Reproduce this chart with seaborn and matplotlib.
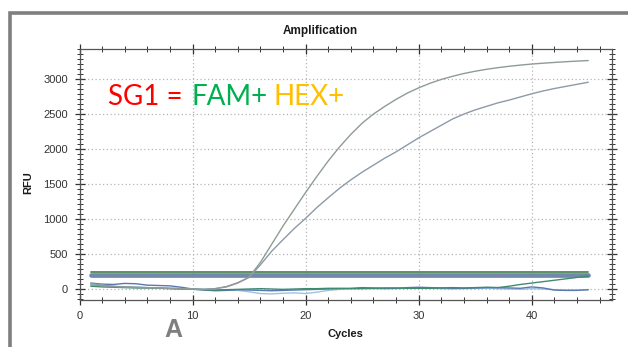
import numpy as np
import pandas as pd
import seaborn as sns
import matplotlib
matplotlib.use("Agg")
import matplotlib.pyplot as plt
from matplotlib.ticker import MultipleLocator, AutoMinorLocator
from matplotlib.patches import Rectangle

# ---------------- data ----------------
cycles = list(range(1, 46))

fam_curve = [60, 45, 35, 28, 22, 18, 12, 8, 5, 0, -5, 5, 30, 85, 170,
             380, 640, 900, 1140, 1380, 1610, 1830, 2030, 2210, 2370,
             2500, 2610, 2710, 2800, 2875, 2940, 2995, 3040, 3080, 3112,
             3140, 3163, 3183, 3200, 3215, 3227, 3238, 3248, 3257, 3265]

hex_curve = [80, 55, 40, 30, 25, 20, 15, 10, 5, 0, -5, 5, 35, 90, 165,
             345, 540, 705, 865, 1010, 1165, 1305, 1440, 1560, 1670,
             1770, 1870, 1960, 2060, 2160, 2250, 2340, 2430, 2500, 2560,
             2610, 2660, 2700, 2745, 2790, 2830, 2865, 2895, 2925, 2955]

ntc_blue = [85, 70, 65, 80, 75, 55, 50, 45, 25, 0, -15, -25, -20, -10, -15,
            -20, -25, -20, -15, -10, -5, 0, 5, 10, 20, 15, 10, 10, 20, 25,
            20, 15, 10, 10, 15, 20, 20, 15, 10, 30, 15, -15, -20, -20, -10]

ntc_light = [50, 40, 35, 30, 25, 20, 15, 10, 5, 0, -5, -10, -15, -20, -40,
             -65, -70, -60, -55, -65, -45, -20, -5, 5, 10, 5, 0, 5, 10, 15,
             10, 5, 0, 5, 10, 10, 5, 0, -5, 5, 0, -10, -15, -15, -10]

late_rise = [40, 30, 25, 20, 15, 15, 10, 5, 0, -5, -10, -15, -10, -5, 0,
             5, 0, -5, 0, 5, 5, 10, 10, 5, 5, 10, 15, 15, 10, 10,
             10, 15, 20, 15, 20, 25, 20, 40, 65, 85, 105, 125, 145, 165, 185]

threshold_blue = [205] * 45
threshold_green = [245] * 45

x_ticks = [0, 10, 20, 30, 40]
y_ticks = [0, 500, 1000, 1500, 2000, 2500, 3000]

title = "Amplification"
x_label = "Cycles"
y_label = "RFU"

# ---------------- figure ----------------
sns.set_style("ticks")
plt.rcParams['font.family'] = ['Liberation Sans', 'DejaVu Sans']

W, H = 628, 347
fig = plt.figure(figsize=(W / 100, H / 100), dpi=100)
fig.patch.set_facecolor("white")

ax_l, ax_r, ax_t, ax_b = 79.5, 612, 49, 299.5
ax = fig.add_axes([ax_l / W, 1 - ax_b / H, (ax_r - ax_l) / W, (ax_b - ax_t) / H])

# outer gray frame
fig.patches.append(Rectangle((9.5 / W, -0.1), 1.2, 1 - 13 / H + 0.1,
                             transform=fig.transFigure, fill=False,
                             edgecolor="#7f7f7f", linewidth=2.6, zorder=0))

def add(df_list, name, vals):
    df_list.append(pd.DataFrame({"Cycle": cycles, "RFU": vals, "trace": name}))

parts = []
add(parts, "ntc_light", ntc_light)
add(parts, "ntc_blue", ntc_blue)
add(parts, "late_rise", late_rise)
add(parts, "hex", hex_curve)
add(parts, "fam", fam_curve)
df = pd.concat(parts, ignore_index=True)

palette = {"ntc_light": "#9cc3e0", "ntc_blue": "#5a78b0",
           "late_rise": "#3f8a70", "hex": "#8d9aa8", "fam": "#8f9c96"}

sns.lineplot(x=cycles, y=threshold_blue, color="#7388ad", linewidth=3.4,
             ax=ax, legend=False, zorder=2)
sns.lineplot(x=cycles, y=threshold_green, color="#4e8a55", linewidth=1.3,
             ax=ax, legend=False, zorder=3)

sns.lineplot(data=df, x="Cycle", y="RFU", hue="trace", palette=palette,
             linewidth=1.0, ax=ax, legend=False, zorder=4)

ax.set_xlim(0, 47.1)
ax.set_ylim(-150, 3430)
ax.set_xticks(x_ticks)
ax.set_yticks(y_ticks)
ax.xaxis.set_minor_locator(MultipleLocator(2))
ax.yaxis.set_minor_locator(AutoMinorLocator(7))

ax.grid(True, which="major", linestyle=(0, (1, 2)), color="#b5b5b5", linewidth=0.9)
ax.set_axisbelow(True)

for s in ax.spines.values():
    s.set_color("#555555")
    s.set_linewidth(0.9)

ax.tick_params(axis="both", which="major", direction="inout", length=7,
               width=0.9, color="#333333", labelsize=8, labelcolor="#333333",
               top=True, right=True, pad=5)
ax.tick_params(axis="both", which="minor", direction="inout", length=4,
               width=0.7, color="#333333", top=True, right=True)

ax.set_xlabel("")
ax.set_ylabel("")

fig.text(320 / W, 1 - 31 / H, title, ha="center", va="center",
         fontsize=8.5, fontweight="bold", color="#1a1a1a")
fig.text(345 / W, 1 - 334 / H, x_label, ha="center", va="center",
         fontsize=8, fontweight="bold", color="#1a1a1a")
fig.text(28 / W, 1 - 183 / H, y_label, ha="center", va="center",
         rotation=90, fontsize=8, fontweight="bold", color="#1a1a1a")

# annotation text
base_y = 1 - 105 / H
fig.text(108 / W, base_y, "SG1 =", color="#ff0000", fontsize=20,
         family=["Lato", "DejaVu Sans"], va="baseline", ha="left")
fig.text(191 / W, base_y, "FAM+", color="#00b050", fontsize=20,
         family=["Lato", "DejaVu Sans"], va="baseline", ha="left")
fig.text(274 / W, base_y, "HEX+", color="#ffc000", fontsize=20,
         family=["Lato", "DejaVu Sans"], va="baseline", ha="left")

fig.text(164 / W, 1 - 337 / H, "A", color="#7f7f7f", fontsize=18,
         fontweight="bold", family=["Liberation Sans", "DejaVu Sans"],
         va="baseline", ha="left")

fig.savefig("out.png", dpi=100, facecolor="white")
